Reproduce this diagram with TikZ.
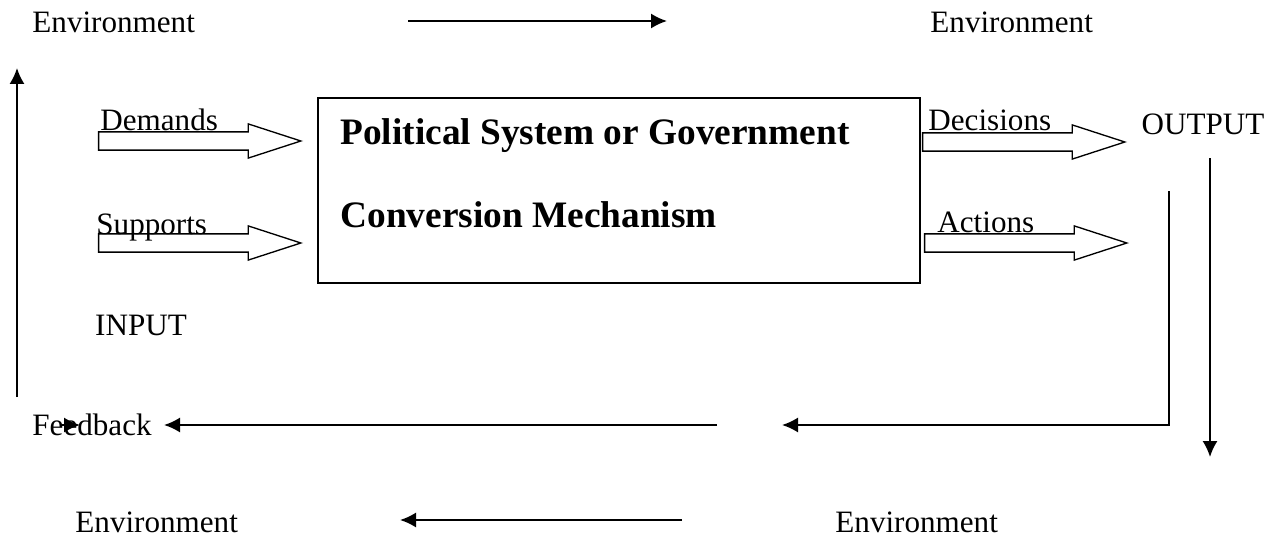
\documentclass[tikz,border=0pt]{standalone}
\usepackage{fontspec}
\setmainfont{Liberation Serif}
\usetikzlibrary{arrows.meta,shapes.arrows,positioning}

\begin{document}
\begin{tikzpicture}[x=0.45pt,y=-0.45pt,>={Latex[length=7.2pt,width=6.8pt]}]
      \tikzset{
	  lbl/.style={inner sep=0pt, font=\fontsize{14}{16}\selectfont},
	  bigtxt/.style={inner sep=0pt, anchor=west, font=\fontsize{16.8}{20}\selectfont\bfseries},
	  flow/.style={line width=0.9pt},
	  hollowarrow/.style={single arrow, draw, line width=0.6pt, inner xsep=0pt, inner ysep=3.8pt, anchor=tip,
	    minimum height=91pt, single arrow head extend=3.6pt, single arrow tip angle=36},
      }
      \useasboundingbox (0,0) rectangle (1276,540);

      % environment, top and bottom
      \node (envtl) at (32,22) [lbl, anchor=west] {Environment};
      \node (envtr) at (930,22) [lbl, anchor=west] {Environment};
      \node (envbl) at (75,522) [lbl, anchor=west] {Environment};
      \node (envbr) at (835,522) [lbl, anchor=west] {Environment};
      \coordinate (topa) at (408,21);
      \coordinate (topb) at (667,21);
      \draw [flow,->] (topa) -- (topb);
      \coordinate (bota) at (682,520);
      \coordinate (botb) at (400,520);
      \draw [flow,->] (bota) -- (botb);

      % the system box
      \node (sys) at (619,190.5) [draw, line width=0.7pt, minimum width=270.9pt, minimum height=83.25pt] {};
      \node (pol) at (340,136) [bigtxt] {Political System or Government};
      \node (conv) at (340,215) [bigtxt] {Conversion Mechanism};

      % inputs
      \node (dem) at (303,141) [hollowarrow] {};
      \node (sup) at (303,243) [hollowarrow] {};
      \node (demt) at (100,131) [lbl, anchor=base west] {Demands};
      \node (supt) at (96,234) [lbl, anchor=base west] {Supports};
      \node (inp) at (141,325) [lbl] {INPUT};

      % outputs
      \node (dec) at (1127,142) [hollowarrow] {};
      \node (act) at (1129,243) [hollowarrow] {};
      \node (dect) at (928,131) [lbl, anchor=base west] {Decisions};
      \node (actt) at (937,232) [lbl, anchor=base west] {Actions};
      \node (outp) at (1203,124) [lbl] {OUTPUT};

      % feedback loop
      \coordinate (outa) at (1210,158);
      \coordinate (outb) at (1210,457);
      \draw [flow,->] (outa) -- (outb);
      \coordinate (reta) at (1169,191);
      \coordinate (retb) at (782,425);
      \draw [flow,->] (reta) |- (retb);
      \node (fb) at (32,425) [lbl, anchor=west] {Feedback};
      \coordinate (fba) at (717,425);
      \coordinate (fbb) at (164,425);
      \draw [flow,->] (fba) -- (fbb);
      \coordinate (fbc) at (62,425);
      \coordinate (fbd) at (80,425);
      \draw [flow,->] (fbc) -- (fbd);
      \coordinate (upa) at (17,397);
      \coordinate (upb) at (17,68);
      \draw [flow,->] (upa) -- (upb);
    \end{tikzpicture}
\end{document}
